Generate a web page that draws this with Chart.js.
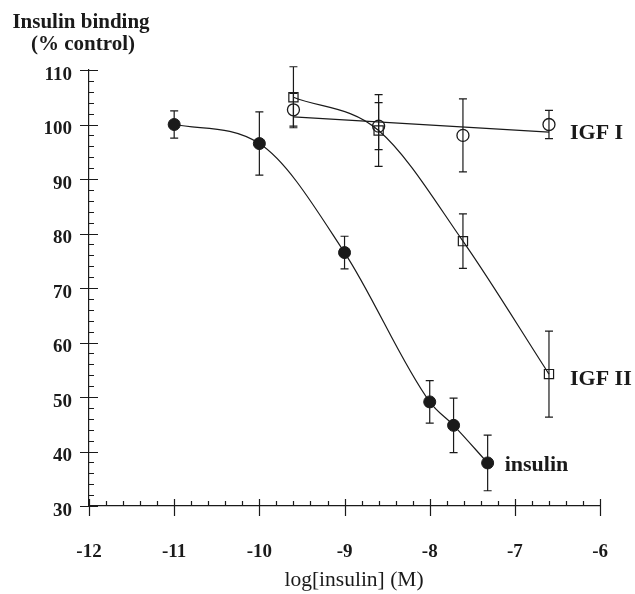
<!DOCTYPE html>
<html>
<head>
<meta charset="utf-8">
<script src="https://cdn.jsdelivr.net/npm/chart.js@4.4.1/dist/chart.umd.min.js"></script>
<style>
  html, body { margin: 0; padding: 0; background: #fff; }
  canvas { display: block; }
</style>
</head>
<body>
<canvas id="c" width="635" height="594"></canvas>
<script>
// ---- data ----
const xTicks = [-12, -11, -10, -9, -8, -7, -6];
const yTicks = [30, 40, 50, 60, 70, 80, 90, 100, 110];

const insulinX   = [-11, -10, -9, -8, -7.72, -7.32];
const insulinY   = [100, 96.5, 76.5, 49.1, 44.8, 37.9];
const insulinErr = [2.5, 5.8, 3.0, 3.9, 5.0, 5.1];

const igf1X   = [-9.6, -8.6, -7.61, -6.6];
const igf1Y   = [102.7, 99.7, 98.0, 100.0];
const igf1Err = [3.0, 4.3, 6.7, 2.6];
const igf1FitX = [-9.6, -6.6];
const igf1FitY = [101.4, 98.6];

const igf2X   = [-9.6, -8.6, -7.61, -6.6];
const igf2Y   = [105.0, 98.9, 78.6, 54.2];
const igf2Err = [5.6, 6.6, 5.0, 7.9];

const seriesLabels = ['insulin', 'IGF I', 'IGF II'];
const yTitle = ['Insulin binding', '(% control)'];
const xTitle = 'log[insulin] (M)';

// ---- helpers ----
const pts = (xs, ys) => xs.map((x, i) => ({x: x, y: ys[i]}));
const INK = '#1a1a1a';
const SERIF = '"Liberation Serif", "DejaVu Serif", serif';

const errorBars = {
  id: 'errorBars',
  beforeDatasetsDraw(chart) {
    const {ctx, scales: {x, y}} = chart;
    ctx.save();
    ctx.strokeStyle = INK;
    ctx.lineWidth = 1.2;
    chart.data.datasets.forEach(ds => {
      if (!ds.err) return;
      ds.data.forEach((p, i) => {
        const e = ds.err[i];
        const px = x.getPixelForValue(p.x);
        const top = y.getPixelForValue(p.y + e);
        const bot = y.getPixelForValue(p.y - e);
        ctx.beginPath();
        ctx.moveTo(px, top); ctx.lineTo(px, bot);
        ctx.moveTo(px - 4, top); ctx.lineTo(px + 4, top);
        ctx.moveTo(px - 4, bot); ctx.lineTo(px + 4, bot);
        ctx.stroke();
      });
    });
    ctx.restore();
  }
};

const axisDecor = {
  id: 'axisDecor',
  afterDraw(chart) {
    const {ctx, scales: {x, y}, chartArea} = chart;
    ctx.save();
    ctx.strokeStyle = INK;
    ctx.lineWidth = 1.2;
    const ax = chartArea.left, ay = chartArea.bottom;
    ctx.beginPath();
    // y ticks: major every 10, minor every 2
    for (let v = y.min; v <= y.max + 1e-9; v += 2) {
      const py = Math.round(y.getPixelForValue(v)) + 0.5;
      const major = Math.abs(v % 10) < 1e-6;
      if (major) { ctx.moveTo(ax - 9, py); ctx.lineTo(ax + 9, py); }
      else { ctx.moveTo(ax, py); ctx.lineTo(ax + 5, py); }
    }
    // x ticks: major every 1, minor every 0.2
    for (let k = 0; k <= 30; k++) {
      const v = x.min + k * 0.2;
      const px = Math.round(x.getPixelForValue(v)) + 0.5;
      if (k % 5 === 0) { ctx.moveTo(px, ay - 7); ctx.lineTo(px, ay + 10); }
      else { ctx.moveTo(px, ay); ctx.lineTo(px, ay - 5); }
    }
    ctx.stroke();

    // titles
    ctx.fillStyle = INK;
    ctx.textAlign = 'center';
    ctx.textBaseline = 'alphabetic';
    ctx.font = 'bold 21px ' + SERIF;
    ctx.fillText(yTitle[0], 81, 28);
    ctx.fillText(yTitle[1], 83, 50);
    ctx.font = '21.5px ' + SERIF;
    ctx.fillText(xTitle, 354, 586);

    // series labels next to last points
    ctx.textAlign = 'left';
    ctx.font = 'bold 22px ' + SERIF;
    const lab = (dsIndex, text, dx, dy) => {
      const d = chart.data.datasets[dsIndex].data;
      const p = d[d.length - 1];
      ctx.fillText(text, x.getPixelForValue(p.x) + dx, y.getPixelForValue(p.y) + dy);
    };
    lab(0, seriesLabels[0], 17, 8);
    lab(1, seriesLabels[1], 21, 14);
    lab(3, seriesLabels[2], 21, 11);
    ctx.restore();
  }
};

new Chart(document.getElementById('c'), {
  type: 'scatter',
  data: {
    datasets: [
      {
        label: seriesLabels[0],
        data: pts(insulinX, insulinY),
        err: insulinErr,
        showLine: true,
        cubicInterpolationMode: 'monotone',
        borderColor: INK, borderWidth: 1.2,
        pointStyle: 'circle', pointRadius: 6,
        pointBackgroundColor: INK, pointBorderColor: INK, pointBorderWidth: 1
      },
      {
        label: seriesLabels[1],
        data: pts(igf1X, igf1Y),
        err: igf1Err,
        showLine: false,
        pointStyle: 'circle', pointRadius: 6,
        pointBackgroundColor: 'rgba(0,0,0,0)', pointBorderColor: INK, pointBorderWidth: 1.3
      },
      {
        label: seriesLabels[1] + ' fit',
        data: pts(igf1FitX, igf1FitY),
        showLine: true,
        borderColor: INK, borderWidth: 1.2,
        pointRadius: 0
      },
      {
        label: seriesLabels[2],
        data: pts(igf2X, igf2Y),
        err: igf2Err,
        showLine: true,
        cubicInterpolationMode: 'monotone',
        borderColor: INK, borderWidth: 1.2,
        pointStyle: 'rect', pointRadius: 6.5,
        pointBackgroundColor: 'rgba(0,0,0,0)', pointBorderColor: INK, pointBorderWidth: 1.2
      }
    ]
  },
  options: {
    responsive: false,
    animation: false,
    events: [],
    layout: { padding: { left: 0, top: 70, right: 32, bottom: 0 } },
    plugins: { legend: { display: false }, tooltip: { enabled: false } },
    scales: {
      x: {
        type: 'linear', min: -12, max: -6,
        afterFit: s => { s.height = 88; },
        afterBuildTicks: s => { s.ticks = xTicks.map(v => ({value: v})); },
        grid: { display: false },
        border: { display: true, color: INK, width: 1.2 },
        ticks: { color: INK, padding: 27, font: { family: SERIF, size: 19, weight: 'bold' } }
      },
      y: {
        type: 'linear', min: 30, max: 110,
        afterFit: s => { s.width = 89; },
        afterBuildTicks: s => { s.ticks = yTicks.map(v => ({value: v})); },
        grid: { display: false },
        border: { display: true, color: INK, width: 1.2 },
        ticks: { color: INK, padding: 9, labelOffset: 5, font: { family: SERIF, size: 19, weight: 'bold' } }
      }
    }
  },
  plugins: [errorBars, axisDecor]
});
</script>
</body>
</html>
